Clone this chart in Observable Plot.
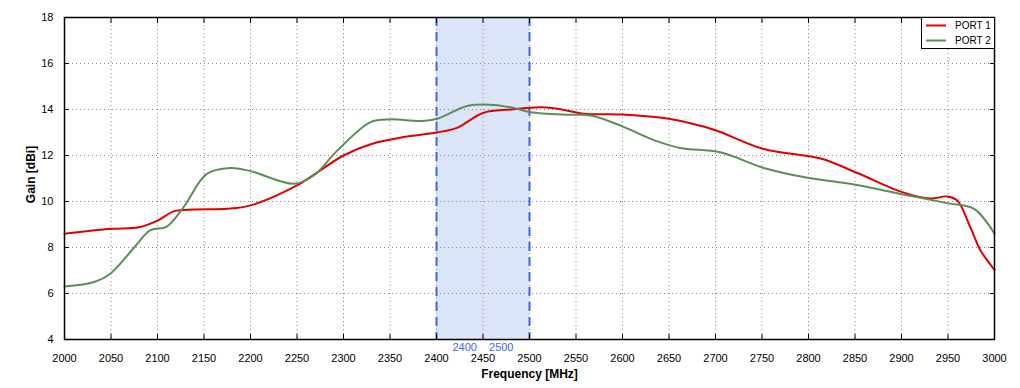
<!DOCTYPE html>
<html>
<head>
<meta charset="utf-8">
<script src="https://cdn.jsdelivr.net/npm/d3@7"></script>
<script src="https://cdn.jsdelivr.net/npm/@observablehq/plot@0.6"></script>
<style>
  html, body { margin: 0; padding: 0; background: #fff; }
  #wrap { position: relative; width: 1020px; height: 388px; font-family: "Liberation Sans", Arial, sans-serif; }
  #legend { position: absolute; left: 921px; top: 17px; width: 72px; height: 30px; border: 1px solid #000; background: #fff; }
</style>
</head>
<body>
<div id="wrap"></div>
<script>
// Port 1 (red)
const port1Freq = [2000,2050,2080,2100,2118,2140,2175,2200,2250,2300,2330,2365,2400,2422,2450,2480,2512,2530,2558,2600,2650,2673,2700,2752,2813,2852,2900,2931,2949,2960,2974,2985,3000];
const port1Gain = [8.6,8.81,8.88,9.17,9.58,9.65,9.68,9.83,10.7,12.0,12.5,12.8,13.0,13.2,13.85,14.0,14.1,14.03,13.82,13.78,13.6,13.4,13.1,12.28,11.87,11.25,10.42,10.13,10.22,10.04,8.88,7.87,7.03];
// Port 2 (green)
const port2Freq = [2000,2032,2049,2075,2092,2110,2128,2153,2178,2200,2247,2268,2293,2329,2350,2383,2401,2433,2462,2483,2501,2544,2566,2598,2633,2662,2705,2752,2799,2849,2899,2949,2978,3000];
const port2Gain = [6.3,6.5,6.85,8.0,8.74,8.91,9.75,11.2,11.46,11.32,10.77,11.13,12.2,13.45,13.57,13.5,13.6,14.15,14.2,14.07,13.88,13.77,13.74,13.3,12.68,12.33,12.14,11.46,11.03,10.74,10.33,9.93,9.68,8.6];
// Band
const bandStart = 2400, bandEnd = 2500;
const xTicks = d3.range(2000, 3001, 50);
const yTicks = [4,6,8,10,12,14,16,18];
const seriesNames = ["PORT 1", "PORT 2"];
const seriesColors = ["#e00000", "#5b8f58"];

const p1 = port1Freq.map((f, i) => ({f, g: port1Gain[i]}));
const p2 = port2Freq.map((f, i) => ({f, g: port2Gain[i]}));

const fontFam = "Liberation Sans, Arial, sans-serif";
const fmt = d3.format("d");
const chart = Plot.plot({
  width: 1020, height: 388,
  marginLeft: 64, marginRight: 26, marginTop: 17, marginBottom: 49,
  style: {fontFamily: fontFam, fontSize: "11px", color: "#000", background: "#fff"},
  x: {domain: [2000, 3000]},
  y: {domain: [4, 18]},
  marks: [
    Plot.rect([{a: bandStart, b: bandEnd}], {x1: "a", x2: "b", y1: 4, y2: 18, fill: "#dce5f8"}),
    Plot.gridX(xTicks, {stroke: "#888", strokeOpacity: 1, strokeDasharray: "1,3"}),
    Plot.gridY(yTicks, {stroke: "#888", strokeOpacity: 1, strokeDasharray: "1,3"}),
    Plot.ruleX([bandStart, bandEnd], {stroke: "#3d66ee", strokeWidth: 2, strokeDasharray: "9,6"}),
    Plot.line(p1, {x: "f", y: "g", stroke: seriesColors[0], strokeWidth: 2, curve: "catmull-rom"}),
    Plot.line(p2, {x: "f", y: "g", stroke: seriesColors[1], strokeWidth: 2, curve: "catmull-rom"}),
    Plot.axisX(xTicks, {anchor: "bottom", tickSize: -5, tickPadding: 20, tickFormat: fmt, label: null, fontSize: 11}),
    Plot.axisX(xTicks, {anchor: "top", tickSize: -5, tickFormat: () => "", label: null}),
    Plot.axisY(yTicks, {anchor: "left", tickSize: -5, tickPadding: 16, tickFormat: fmt, label: null, fontSize: 11}),
    Plot.axisY(yTicks, {anchor: "right", tickSize: -5, tickFormat: () => "", label: null}),
    Plot.frame({stroke: "#000", strokeWidth: 1.5}),
    Plot.text([String(bandStart)], {x: bandStart, y: 4, dx: 16, dy: 8, textAnchor: "start", fill: "#3d66ee", fontSize: 11}),
    Plot.text([String(bandEnd)], {x: bandEnd, y: 4, dx: -16, dy: 8, textAnchor: "end", fill: "#3d66ee", fontSize: 11}),
    Plot.text(["Frequency [MHz]"], {frameAnchor: "bottom", dy: 38, textAnchor: "middle", fontWeight: "bold", fontSize: 12}),
    Plot.text(["Gain [dBi]"], {frameAnchor: "left", dx: -33, dy: -4, rotate: -90, textAnchor: "middle", fontWeight: "bold", fontSize: 12})
  ]
});
const wrap = document.getElementById("wrap");
wrap.appendChild(chart);

const leg = document.createElement("div");
leg.id = "legend";
const ns = "http://www.w3.org/2000/svg";
const lsvg = document.createElementNS(ns, "svg");
lsvg.setAttribute("width", 72); lsvg.setAttribute("height", 30);
seriesNames.forEach((name, i) => {
  const y = 7.5 + i * 15;
  const ln = document.createElementNS(ns, "line");
  ln.setAttribute("x1", 4); ln.setAttribute("x2", 24);
  ln.setAttribute("y1", y); ln.setAttribute("y2", y);
  ln.setAttribute("stroke", seriesColors[i]); ln.setAttribute("stroke-width", 2);
  lsvg.appendChild(ln);
  const t = document.createElementNS(ns, "text");
  t.setAttribute("x", 33); t.setAttribute("y", y + 3.5);
  t.setAttribute("font-size", 10); t.setAttribute("font-family", fontFam);
  t.textContent = name;
  lsvg.appendChild(t);
});
leg.appendChild(lsvg);
wrap.appendChild(leg);
</script>
</body>
</html>
